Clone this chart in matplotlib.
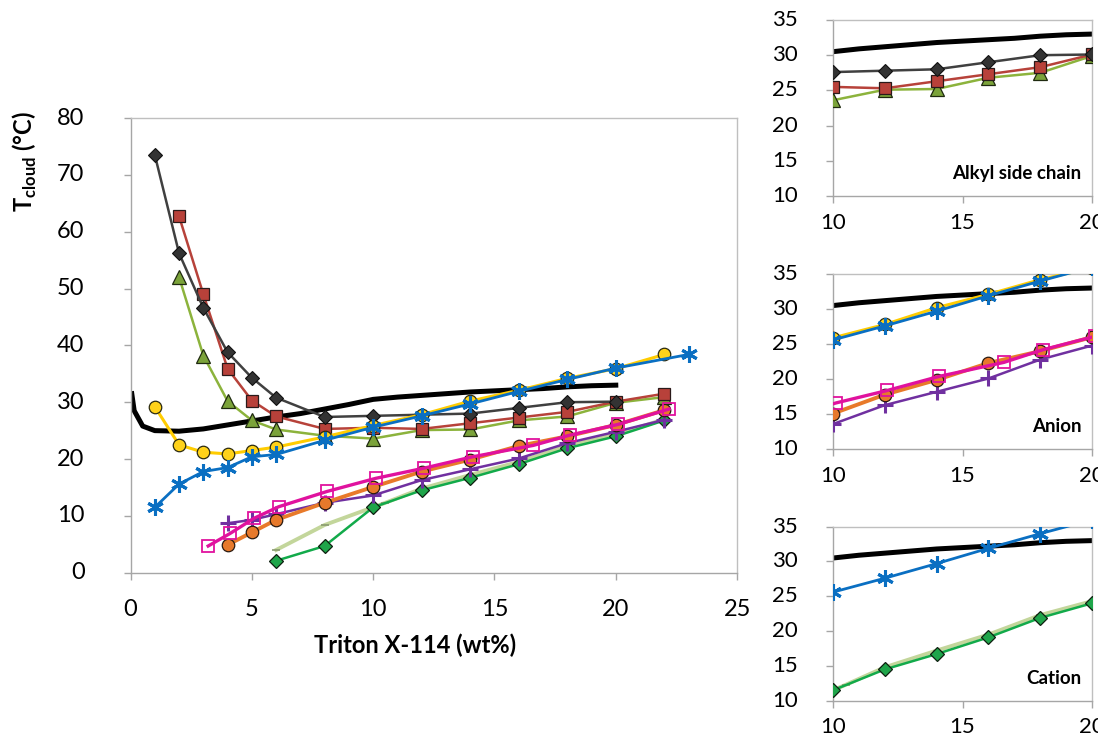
import matplotlib
matplotlib.use('Agg')
import matplotlib.pyplot as plt
from matplotlib.transforms import offset_copy

plt.rcParams['font.family'] = ['Lato', 'DejaVu Sans']
plt.rcParams['mathtext.fontset'] = 'custom'
plt.rcParams['mathtext.rm'] = 'Lato'
plt.rcParams['mathtext.bf'] = 'Lato:bold'

# Data (x = Triton X-114 wt%, y = T cloud in deg C)
black_x = [0.05, 0.15, 0.5, 1, 2, 3, 4, 5, 6, 7, 8, 9, 10, 11, 12, 13, 14, 15, 16, 17, 18, 19, 20]
black_y = [31.5, 28.5, 25.8, 25.0, 24.9, 25.3, 26.0, 26.7, 27.4, 28.0, 28.8, 29.6, 30.5, 30.9,
           31.2, 31.5, 31.8, 32.0, 32.2, 32.4, 32.7, 32.9, 33.0]

gray_x = [1, 2, 3, 4, 5, 6, 8, 10, 12, 14, 16, 18, 20]
gray_y = [73.5, 56.2, 46.6, 38.8, 34.3, 30.8, 27.4, 27.6, 27.8, 28.0, 29.0, 30.0, 30.1]

red_x = [2, 3, 4, 5, 6, 8, 10, 12, 14, 16, 18, 20, 22]
red_y = [62.7, 49.0, 35.9, 30.3, 27.5, 25.3, 25.5, 25.3, 26.3, 27.3, 28.3, 30.1, 31.5]

olive_x = [2, 3, 4, 5, 6, 8, 10, 12, 14, 16, 18, 20, 22]
olive_y = [52.0, 38.2, 30.2, 26.8, 25.2, 24.1, 23.6, 25.1, 25.2, 26.8, 27.5, 29.9, 30.9]

yellow_x = [1, 2, 3, 4, 5, 6, 8, 10, 12, 14, 16, 18, 20, 22]
yellow_y = [29.2, 22.5, 21.2, 20.9, 21.5, 22.1, 23.9, 25.9, 27.8, 30.2, 32.1, 34.2, 35.9, 38.4]

blue_x = [1, 2, 3, 4, 5, 6, 8, 10, 12, 14, 16, 18, 20, 23]
blue_y = [11.5, 15.6, 17.8, 18.5, 20.4, 20.8, 23.3, 25.6, 27.6, 29.7, 31.9, 34.0, 36.0, 38.4]

orange_x = [4, 5, 6, 8, 10, 12, 14, 16, 18, 20, 22]
orange_y = [4.9, 7.1, 9.3, 12.3, 15.1, 17.8, 19.9, 22.3, 24.0, 26.0, 28.6]

magenta_x = [3.2, 4.1, 5.1, 6.1, 8.1, 10.1, 12.1, 14.1, 16.6, 18.1, 20.1, 22.2]
magenta_y = [4.7, 6.9, 9.6, 11.6, 14.3, 16.6, 18.4, 20.4, 22.4, 24.2, 26.1, 28.8]

purple_x = [4, 5, 6, 8, 10, 12, 14, 16, 18, 20, 22]
purple_y = [8.7, 9.3, 10.3, 12.3, 13.6, 16.3, 18.2, 20.1, 22.8, 24.8, 26.9]

green_x = [6, 8, 10, 12, 14, 16, 18, 20, 22]
green_y = [2.1, 4.7, 11.5, 14.5, 16.7, 19.1, 21.9, 24.0, 26.8]

lgreen_x = [6, 8, 10.5, 12, 14, 16, 18, 20, 22]
lgreen_y = [4.0, 8.4, 12.3, 14.8, 17.2, 19.5, 22.3, 24.3, 27.0]

main_yticks = list(range(0, 81, 10))
inset_yticks = list(range(10, 36, 5))

series = {
    'black': (black_x, black_y, dict(color='black', lw=3.6, zorder=2)),
    'gray': (gray_x, gray_y, dict(color='#404040', lw=1.8, marker='D', ms=7.5,
                                  mfc='#333333', mec='#111111', mew=0.8, zorder=3)),
    'red': (red_x, red_y, dict(color='#B7423A', lw=1.8, marker='s', ms=9,
                                mfc='#B8413A', mec='#2a1a1a', mew=0.9, zorder=3)),
    'olive': (olive_x, olive_y, dict(color='#8CB33C', lw=1.8, marker='^', ms=9.5,
                                    mfc='#7BA33A', mec='#1f2a10', mew=0.9, zorder=3)),
    'yellow': (yellow_x, yellow_y, dict(color='#FFCC00', lw=2.2, marker='o', ms=9,
                                       mfc='#FFD21A', mec='#2a2a10', mew=0.9, zorder=3)),
    'blue': (blue_x, blue_y, dict(color='#0A6FC2', lw=2.0, marker=(6, 2, 0), ms=12,
                                   mec='#0A6FC2', mew=2.2, zorder=4)),
    'orange': (orange_x, orange_y, dict(color='#E87A2A', lw=2.8, marker='o', ms=9,
                                       mfc='#E7792B', mec='#2a1a10', mew=0.9, zorder=3)),
    'lgreen': (lgreen_x, lgreen_y, dict(color='#C3D69B', lw=2.8, marker='_', ms=6,
                                       mec='#8a9a70', mew=1.2, zorder=2)),
    'green': (green_x, green_y, dict(color='#12AA4A', lw=1.8, marker='D', ms=7.5,
                                     mfc='#1FA54A', mec='#0e1f10', mew=0.9, zorder=3)),
    'purple': (purple_x, purple_y, dict(color='#7030A0', lw=1.8, marker='+', ms=11,
                                        mew=2.2, zorder=3)),
    'magenta': (magenta_x, magenta_y, dict(color='#E0129E', lw=2.4, marker='s', ms=9,
                                          mfc='none', mec='#E0129E', mew=1.3, zorder=4)),
}


def style_axes(ax, xlim, ylim, xticks, yticks, size, xpad, ylab_offset):
    ax.set_xlim(*xlim)
    ax.set_ylim(*ylim)
    ax.set_xticks(xticks)
    ax.set_yticks(yticks)
    for s in ax.spines.values():
        s.set_color('#BFBFBF')
        s.set_linewidth(1.0)
    ax.spines['left'].set_color('#A6A6A6')
    ax.spines['bottom'].set_color('#A6A6A6')
    ax.tick_params(direction='out', length=5, width=1, color='#A6A6A6',
                   labelsize=size, top=False, right=False, pad=xpad)
    # y tick labels sit well left of the axis in the original (Excel style)
    ax.tick_params(axis='y', labelleft=False)
    trans = offset_copy(ax.get_yaxis_transform(), fig=ax.figure, x=-ylab_offset, units='dots')
    for v in yticks:
        ax.text(0, v, str(v), transform=trans, ha='right', va='center', fontsize=size,
                clip_on=False)


fig = plt.figure(figsize=(10.98, 7.35), dpi=100)

# main chart
ax = fig.add_axes([0.1189, 0.2208, 0.5524, 0.6186])
for name in ['black', 'lgreen', 'green', 'purple', 'orange', 'magenta',
             'olive', 'red', 'gray', 'yellow', 'blue']:
    x, y, kw = series[name]
    ax.plot(x, y, **kw)
style_axes(ax, (0, 25), (0, 80), range(0, 26, 5), main_yticks, 17, 14, 46)

fig.text(25 / 1098, 1 - 162 / 735, r'$\mathbf{T}_{\mathbf{cloud}}$ (°C)', rotation=90,
         ha='center', va='center', fontsize=17, fontweight='bold')
fig.text(415 / 1098, 1 - 645 / 735, 'Triton X-114 (wt%)', ha='center', va='center',
         fontsize=17, fontweight='bold')

# insets
insets = [
    ([0.7587, 0.7333, 0.2359, 0.2395], ['black', 'olive', 'red', 'gray'], 'Alkyl side chain'),
    ([0.7587, 0.3887, 0.2359, 0.2385], ['black', 'purple', 'orange', 'magenta', 'yellow', 'blue'], 'Anion'),
    ([0.7587, 0.0467, 0.2359, 0.2367], ['black', 'lgreen', 'green', 'blue'], 'Cation'),
]
for rect, names, label in insets:
    iax = fig.add_axes(rect)
    for name in names:
        x, y, kw = series[name]
        iax.plot(x, y, **kw)
    style_axes(iax, (10, 20), (10, 35), [10, 15, 20], inset_yticks, 16, 7, 35)
    iax.text(0.96, 0.08, label, transform=iax.transAxes, ha='right', va='bottom',
             fontsize=13.5, fontweight='bold')

fig.savefig('out.png', dpi=100)
